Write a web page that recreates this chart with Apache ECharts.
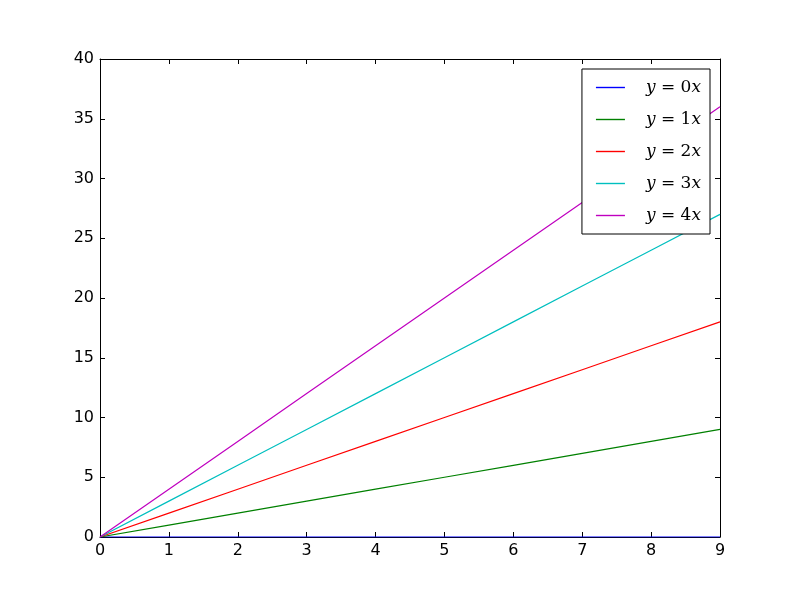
<!DOCTYPE html>
<html><head><meta charset="utf-8">
<script src="https://cdn.jsdelivr.net/npm/echarts@6/dist/echarts.min.js"></script>
<style>html,body{margin:0;padding:0;background:#fff}#c{width:800px;height:597px}</style>
</head><body><div id="c"></div>
<script>
var xValues = [0, 1, 2, 3, 4, 5, 6, 7, 8, 9];
var y0 = [0, 0, 0, 0, 0, 0, 0, 0, 0, 0];
var y1 = [0, 1, 2, 3, 4, 5, 6, 7, 8, 9];
var y2 = [0, 2, 4, 6, 8, 10, 12, 14, 16, 18];
var y3 = [0, 3, 6, 9, 12, 15, 18, 21, 24, 27];
var y4 = [0, 4, 8, 12, 16, 20, 24, 28, 32, 36];
var seriesNames = ['y=0x', 'y=1x', 'y=2x', 'y=3x', 'y=4x'];
var legendCoef = ['0', '1', '2', '3', '4'];
var colors = ['#0000ff', '#008000', '#ff0000', '#00bfbf', '#bf00bf'];
var allY = [y0, y1, y2, y3, y4];

var chart = echarts.init(document.getElementById('c'), null, {renderer: 'canvas'});
var labelFont = {fontFamily: 'DejaVu Sans', fontSize: 16, color: '#000'};
function pairs(ys) { return xValues.map(function (x, i) { return [x, ys[i]]; }); }
var series = allY.map(function (ys, i) {
  return {
    name: seriesNames[i], type: 'line', data: pairs(ys), showSymbol: false,
    symbol: 'none', lineStyle: {color: colors[i], width: 1.2}, itemStyle: {color: colors[i]},
    animation: false, z: 3
  };
});
function ax(extra) {
  return Object.assign({
    type: 'value', min: 0,
    axisLine: {show: true, onZero: false, lineStyle: {color: '#000', width: 1}},
    axisTick: {show: true, inside: true, length: 5, lineStyle: {color: '#000'}},
    splitLine: {show: false}
  }, extra);
}
chart.setOption({
  animation: false,
  grid: {left: 100, right: 80, top: 59, bottom: 60, show: false},
  xAxis: [
    ax({max: 9, interval: 1, position: 'bottom', axisLabel: Object.assign({margin: 6}, labelFont)}),
    ax({max: 9, interval: 1, position: 'top', axisLabel: {show: false}})
  ],
  yAxis: [
    ax({max: 40, interval: 5, position: 'left', axisLabel: Object.assign({margin: 6}, labelFont)}),
    ax({max: 40, interval: 5, position: 'right', axisLabel: {show: false}})
  ],
  legend: {
    orient: 'vertical', right: 90, top: 69,
    backgroundColor: '#fff', borderColor: '#000', borderWidth: 1, borderRadius: 0,
    padding: [10, 9, 10, 14],
    itemWidth: 29, itemHeight: 17, itemGap: 15,
    icon: 'path://M0,8 L29,8 L29,9.4 L0,9.4 Z',
    data: seriesNames,
    formatter: function (name) {
      var i = seriesNames.indexOf(name);
      return '{i|y}{n| = ' + legendCoef[i] + '}{i|x}';
    },
    textStyle: {
      padding: [0, 0, 0, 16],
      rich: {
        i: {fontFamily: 'DejaVu Serif', fontStyle: 'italic', fontSize: 17, color: '#000', lineHeight: 17},
        n: {fontFamily: 'DejaVu Serif', fontSize: 17, color: '#000', lineHeight: 17}
      }
    }
  },
  series: series
});
</script></body></html>
